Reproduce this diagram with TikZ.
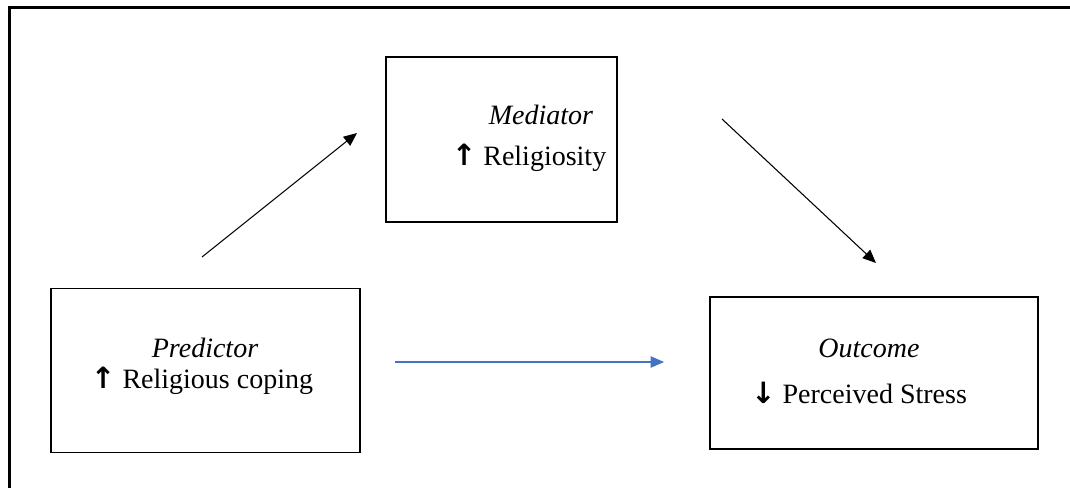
\documentclass[tikz,border=0pt]{standalone}
\usepackage{fontspec}
\setmainfont{Liberation Serif}
\newfontfamily\arrowfont{DejaVu Sans}
\usetikzlibrary{arrows.meta}
\definecolor{arrowblue}{HTML}{4472C4}
\newcommand{\uparr}{{\arrowfont\bfseries\fontsize{22}{24}\selectfont ↑}}
\newcommand{\downarr}{{\arrowfont\bfseries\fontsize{22}{24}\selectfont ↓}}
\begin{document}
\begin{tikzpicture}[x=0.75pt,y=-0.75pt,
  boxnode/.style={draw=black,line width=1.1pt,inner sep=0pt},
  lbl/.style={inner sep=0pt,font=\fontsize{21}{24}\selectfont},
  arr/.style={line width=0.8pt,-{Triangle[length=10pt,width=8.5pt]}}]
\useasboundingbox (0,0) rectangle (1070,488);
% frame
\draw[line width=2.6pt] (9.5,488) -- (9.5,7.5) -- (1070,7.5);
% boxes
\node[boxnode,minimum width=309*0.75pt,minimum height=164*0.75pt] (pred) at (205.5,370.5) {};
\node[boxnode,minimum width=231*0.75pt,minimum height=165*0.75pt] (med) at (501.5,139.5) {};
\node[boxnode,minimum width=328*0.75pt,minimum height=152*0.75pt] (out) at (874,373) {};
% texts
\node[lbl] (predt) at (205,348) {\itshape Predictor};
\node[lbl] (predv) at (202,381) {\uparr\ Religious coping};
\node[lbl] (medt) at (541,115) {\itshape Mediator};
\node[lbl] (medv) at (529,158) {\uparr\ Religiosity};
\node[lbl] (outt) at (869,348) {\itshape Outcome};
\node[lbl] (outv) at (859,393) {\downarr\ Perceived Stress};
% arrows
\coordinate (a1s) at (202,257);
\coordinate (a1e) at (357,133);
\coordinate (a2s) at (722,119);
\coordinate (a2e) at (876,263);
\coordinate (a3s) at (395,362);
\coordinate (a3e) at (664,362);
\draw[arr] (a1s) -- (a1e);
\draw[arr] (a2s) -- (a2e);
\draw[arr,draw=arrowblue,fill=arrowblue] (a3s) -- (a3e);
\end{tikzpicture}
\end{document}
